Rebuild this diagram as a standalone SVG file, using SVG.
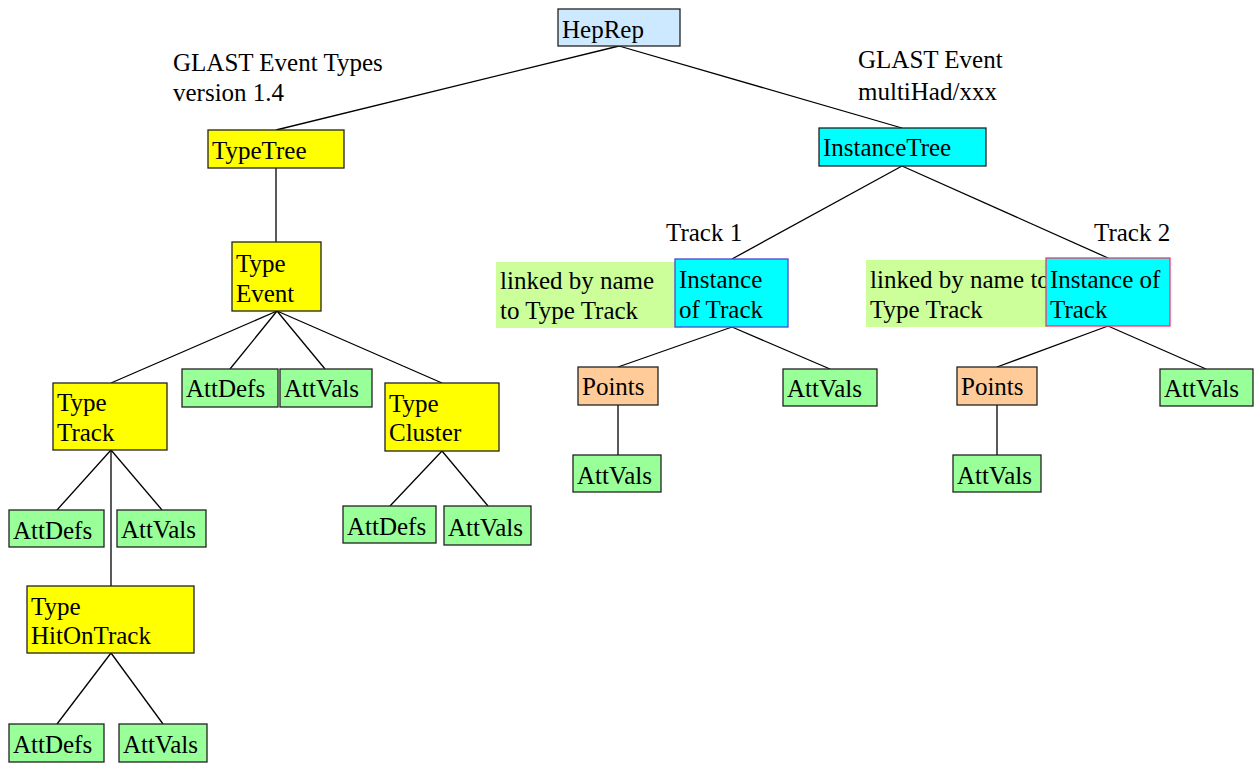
<svg xmlns="http://www.w3.org/2000/svg" width="1255" height="764" viewBox="0 0 1255 764">
<style>
text{font-family:"Liberation Serif","Times New Roman",serif;font-size:25px;fill:#000}
.b{stroke:#222;stroke-width:1.3}
.y{fill:#ffff00}.g{fill:#99ff99}.c{fill:#00ffff}.p{fill:#ffcc99}.h{fill:#cce9ff}.l{fill:#ccff99}
#edges line{stroke:#000;stroke-width:1.3}
</style>
<rect width="1255" height="764" fill="#fff"/>
<g id="edges">
<line x1="619" y1="46" x2="276" y2="130"/>
<line x1="619" y1="46" x2="902" y2="128"/>
<line x1="276" y1="168" x2="276" y2="242"/>
<line x1="277" y1="311" x2="111" y2="383"/>
<line x1="277" y1="311" x2="230" y2="369"/>
<line x1="277" y1="311" x2="325" y2="369"/>
<line x1="277" y1="311" x2="442" y2="383"/>
<line x1="111" y1="450" x2="57" y2="510"/>
<line x1="111" y1="450" x2="162" y2="510"/>
<line x1="111" y1="450" x2="111" y2="586"/>
<line x1="111" y1="653" x2="57" y2="724"/>
<line x1="111" y1="653" x2="163" y2="724"/>
<line x1="442" y1="451" x2="390" y2="506"/>
<line x1="442" y1="451" x2="488" y2="506"/>
<line x1="902" y1="166" x2="732" y2="259"/>
<line x1="902" y1="166" x2="1108" y2="258"/>
<line x1="732" y1="327" x2="618" y2="367"/>
<line x1="732" y1="327" x2="830" y2="369"/>
<line x1="618" y1="405" x2="618" y2="455"/>
<line x1="1108" y1="326" x2="997" y2="367"/>
<line x1="1108" y1="326" x2="1206" y2="369"/>
<line x1="997" y1="405" x2="997" y2="455"/>
</g>
<g id="labels">
<text x="173" y="71">GLAST Event Types</text>
<text x="173" y="101">version 1.4</text>
<text x="858" y="68">GLAST Event</text>
<text x="858" y="100">multiHad/xxx</text>
<text x="666" y="241">Track 1</text>
<text x="1094" y="241">Track 2</text>
</g>
<g id="heprep"><rect class="b h" x="558" y="9" width="122" height="37"/><text x="562" y="38">HepRep</text></g>
<g id="typetree"><rect class="b y" x="208" y="130" width="136" height="38"/><text x="212" y="159">TypeTree</text></g>
<g id="typeevent"><rect class="b y" x="232" y="242" width="89" height="69"/><text x="236" y="272">Type</text><text x="236" y="302">Event</text></g>
<g id="typetrack"><rect class="b y" x="53" y="383" width="114" height="67"/><text x="57" y="411">Type</text><text x="57" y="441">Track</text></g>
<g id="ev-attdefs"><rect class="b g" x="182" y="369" width="96" height="38"/><text x="186" y="397">AttDefs</text></g>
<g id="ev-attvals"><rect class="b g" x="280" y="369" width="92" height="38"/><text x="284" y="397">AttVals</text></g>
<g id="typecluster"><rect class="b y" x="385" y="383" width="114" height="68"/><text x="389" y="412">Type</text><text x="389" y="441">Cluster</text></g>
<g id="cl-attdefs"><rect class="b g" x="343" y="506" width="93" height="37"/><text x="347" y="535">AttDefs</text></g>
<g id="cl-attvals"><rect class="b g" x="444" y="506" width="87" height="39"/><text x="448" y="536">AttVals</text></g>
<g id="tr-attdefs"><rect class="b g" x="9" y="510" width="95" height="37"/><text x="13" y="539">AttDefs</text></g>
<g id="tr-attvals"><rect class="b g" x="117" y="510" width="89" height="37"/><text x="121" y="538">AttVals</text></g>
<g id="typehit"><rect class="b y" x="27" y="586" width="167" height="67"/><text x="31" y="615">Type</text><text x="31" y="644">HitOnTrack</text></g>
<g id="hit-attdefs"><rect class="b g" x="9" y="724" width="95" height="38"/><text x="13" y="753">AttDefs</text></g>
<g id="hit-attvals"><rect class="b g" x="119" y="724" width="88" height="38"/><text x="123" y="753">AttVals</text></g>
<g id="instancetree"><rect class="b c" x="819" y="128" width="167" height="38"/><text x="823" y="156">InstanceTree</text></g>
<g id="note1"><rect class="l" x="496" y="262" width="186" height="66"/><text x="500" y="289">linked by name</text><text x="500" y="319">to Type Track</text></g>
<g id="instance1"><rect class="c" x="675" y="259" width="113" height="68" stroke="#4a4ad0" stroke-width="1.3"/><text x="679" y="288">Instance</text><text x="679" y="318">of Track</text></g>
<g id="note2"><rect class="l" x="866" y="260" width="182" height="67"/><text x="870" y="288">linked by name to</text><text x="870" y="318">Type Track</text></g>
<g id="instance2"><rect class="c" x="1046" y="258" width="124" height="68" stroke="#ff3366" stroke-width="1.3"/><text x="1050" y="288">Instance of</text><text x="1050" y="318">Track</text></g>
<g id="points1"><rect class="b p" x="578" y="367" width="80" height="38"/><text x="582" y="395">Points</text></g>
<g id="i1-attvals"><rect class="b g" x="783" y="369" width="94" height="37"/><text x="787" y="397">AttVals</text></g>
<g id="p1-attvals"><rect class="b g" x="573" y="455" width="88" height="37"/><text x="577" y="484">AttVals</text></g>
<g id="points2"><rect class="b p" x="957" y="367" width="80" height="38"/><text x="961" y="395">Points</text></g>
<g id="i2-attvals"><rect class="b g" x="1160" y="369" width="93" height="37"/><text x="1164" y="397">AttVals</text></g>
<g id="p2-attvals"><rect class="b g" x="953" y="455" width="88" height="37"/><text x="957" y="484">AttVals</text></g>
</svg>
